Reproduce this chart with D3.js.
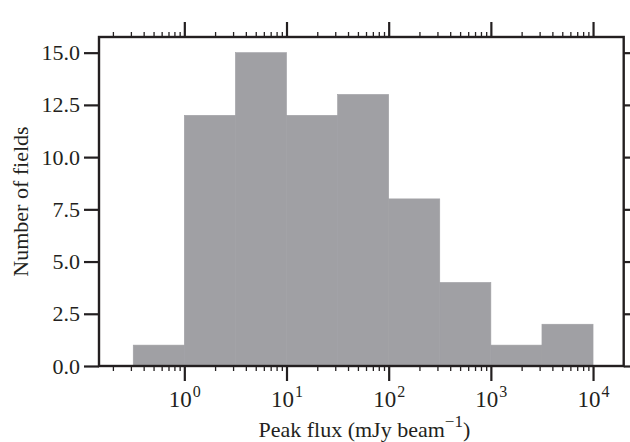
<!DOCTYPE html>
<html>
<head>
<meta charset="utf-8">
<script src="https://cdn.jsdelivr.net/npm/d3@7"></script>
<style>
  body { margin: 0; background: #fff; }
  svg text { font-family: "Liberation Serif", "DejaVu Serif", serif; fill: #231f20; }
</style>
</head>
<body>
<div id="chart"></div>
<script>
// bin edges (log10 of peak flux) and counts per bin
const binEdges = [-0.5, 0, 0.5, 1, 1.5, 2, 2.5, 3, 3.5, 4];
const counts = [1, 12, 15, 12, 13, 8, 4, 1, 2];
const yTicks = [0, 2.5, 5, 7.5, 10, 12.5, 15];
const xDecades = [0, 1, 2, 3, 4];

let width = 630,
    height = 442;
let margin = {top: 37, right: 6.3, bottom: 76, left: 99};

let svg = d3.select("#chart").append("svg")
  .attr("width", width)
  .attr("height", height);

let x = d3.scaleLog()
  .domain([Math.pow(10, -0.835), Math.pow(10, 4.3)])
  .range([margin.left, width - margin.right]);

let y = d3.scaleLinear()
  .domain([0, 15.75])
  .range([height - margin.bottom, margin.top]);

let bins = counts.map((c, i) => ({
  x0: Math.pow(10, binEdges[i]),
  x1: Math.pow(10, binEdges[i + 1]),
  count: c
}));

svg.append("g")
  .selectAll("rect")
  .data(bins)
  .enter().append("rect")
    .attr("x", d => x(d.x0))
    .attr("width", d => x(d.x1) - x(d.x0))
    .attr("y", d => y(d.count))
    .attr("height", d => y(0) - y(d.count))
    .attr("fill", "#a0a0a4")
    .attr("stroke", "#a0a0a4")
    .attr("stroke-width", 0.6);

// minor ticks 2..9 within the visible range
let minorVals = [];
for (let e = -1; e <= 4; e++) {
  for (let m = 2; m <= 9; m++) {
    let v = m * Math.pow(10, e);
    if (v > x.domain()[0] && v < x.domain()[1]) minorVals.push(v);
  }
}
let majorVals = xDecades.map(e => Math.pow(10, e));

function styleAxis(g) {
  g.select(".domain").remove();
  g.selectAll(".tick line").attr("stroke", "#231f20");
}

// bottom axis
let xb = svg.append("g")
  .attr("transform", `translate(0,${y(0)})`);
xb.append("g").call(d3.axisBottom(x).tickValues(minorVals).tickSize(5).tickFormat(""))
  .call(styleAxis)
  .selectAll(".tick line").attr("stroke-width", 1.3);
let xMaj = xb.append("g").call(d3.axisBottom(x).tickValues(majorVals).tickSize(15).tickFormat(""))
  .call(styleAxis);
xMaj.selectAll(".tick line").attr("stroke-width", 2.2);
xMaj.selectAll(".tick").append("text")
  .attr("y", 41)
  .attr("text-anchor", "middle")
  .attr("font-size", 23)
  .attr("fill", "#231f20")
  .each(function(d) {
    let t = d3.select(this);
    t.append("tspan").text("10");
    t.append("tspan").attr("dy", -10).attr("dx", 1).attr("font-size", 16).text(Math.round(Math.log10(d)));
  });

// top axis
let xt = svg.append("g")
  .attr("transform", `translate(0,${margin.top})`);
xt.append("g").call(d3.axisTop(x).tickValues(minorVals).tickSize(5).tickFormat(""))
  .call(styleAxis)
  .selectAll(".tick line").attr("stroke-width", 1.3);
xt.append("g").call(d3.axisTop(x).tickValues(majorVals).tickSize(15).tickFormat(""))
  .call(styleAxis)
  .selectAll(".tick line").attr("stroke-width", 2.2);

// left axis
let yl = svg.append("g")
  .attr("transform", `translate(${margin.left},0)`)
  .call(d3.axisLeft(y).tickValues(yTicks).tickSize(15).tickPadding(4).tickFormat(d3.format(".1f")))
  .call(styleAxis);
yl.selectAll(".tick line").attr("stroke-width", 2.2);
yl.selectAll(".tick text").attr("font-size", 22).attr("fill", "#231f20");

// right axis
svg.append("g")
  .attr("transform", `translate(${width - margin.right},0)`)
  .call(d3.axisRight(y).tickValues(yTicks).tickSize(15).tickFormat(""))
  .call(styleAxis)
  .selectAll(".tick line").attr("stroke-width", 2.2);

// frame
svg.append("rect")
  .attr("x", margin.left)
  .attr("y", margin.top)
  .attr("width", width - margin.right - margin.left)
  .attr("height", y(0) - margin.top)
  .attr("fill", "none")
  .attr("stroke", "#231f20")
  .attr("stroke-width", 2.4);

// axis labels
let xl = svg.append("text")
  .attr("x", (margin.left + width - margin.right) / 2 + 3)
  .attr("y", 437)
  .attr("text-anchor", "middle")
  .attr("font-size", 22);
xl.append("tspan").text("Peak flux (mJy beam");
xl.append("tspan").attr("dy", -10).attr("font-size", 17).text("\u22121");
xl.append("tspan").attr("dy", 10).text(")");

svg.append("text")
  .attr("transform", `translate(28,${(margin.top + y(0)) / 2}) rotate(-90)`)
  .attr("text-anchor", "middle")
  .attr("font-size", 22)
  .text("Number of fields");
</script>
</body>
</html>
